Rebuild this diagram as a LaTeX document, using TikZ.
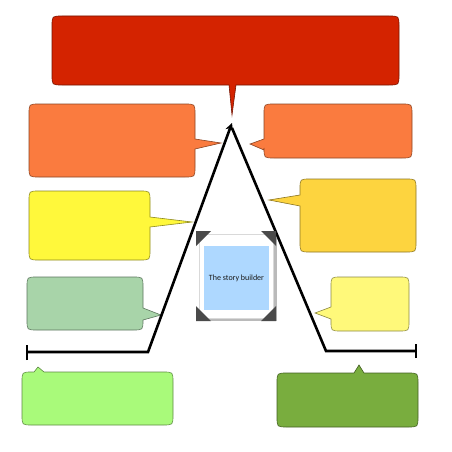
\documentclass[tikz,border=0pt]{standalone}
\usepackage{fontspec}
\newfontfamily\carl{Carlito}
\usetikzlibrary{arrows.meta}
\definecolor{cRed}{HTML}{D42300}
\definecolor{cOrange}{HTML}{FA7B3F}
\definecolor{cYellow}{HTML}{FFF83B}
\definecolor{cSage}{HTML}{A8D4A9}
\definecolor{cGold}{HTML}{FDD43F}
\definecolor{cPale}{HTML}{FFF97A}
\definecolor{cDkGreen}{HTML}{79AD3E}
\definecolor{cLtGreen}{HTML}{A9FA7A}
\definecolor{cBlue}{HTML}{AED8FF}
\definecolor{cCorner}{HTML}{4A4A4A}
\tikzset{
  bubble/.style={fill=#1, draw=#1!55!black, line width=0.6pt, line join=miter},
  plotline/.style={line width=2.6pt, black},
  endbar/.style={line width=2.6pt, black},
  corner/.style={fill=cCorner, draw=none},
}
\def\rr{10}
% #1 colour, #2 x1, #3 y1, #4 x2, #5 y2, #6/#7 tail base, #8/#9 tail tip
\newcommand\bubR[9]{\draw[bubble=#1] ({#2+\rr},#3) -- ({#4-\rr},#3) .. controls (#4,#3) .. (#4,{#3+\rr}) -- (#4,#6) -- (#8,#9) -- (#4,#7) -- (#4,{#5-\rr}) .. controls (#4,#5) .. ({#4-\rr},#5) -- ({#2+\rr},#5) .. controls (#2,#5) .. (#2,{#5-\rr}) -- (#2,{#3+\rr}) .. controls (#2,#3) .. ({#2+\rr},#3) -- cycle;}
\newcommand\bubL[9]{\draw[bubble=#1] ({#2+\rr},#3) -- ({#4-\rr},#3) .. controls (#4,#3) .. (#4,{#3+\rr}) -- (#4,{#5-\rr}) .. controls (#4,#5) .. ({#4-\rr},#5) -- ({#2+\rr},#5) .. controls (#2,#5) .. (#2,{#5-\rr}) -- (#2,#7) -- (#8,#9) -- (#2,#6) -- (#2,{#3+\rr}) .. controls (#2,#3) .. ({#2+\rr},#3) -- cycle;}
\newcommand\bubD[9]{\draw[bubble=#1] ({#2+\rr},#3) -- ({#4-\rr},#3) .. controls (#4,#3) .. (#4,{#3+\rr}) -- (#4,{#5-\rr}) .. controls (#4,#5) .. ({#4-\rr},#5) -- (#7,#5) -- (#8,#9) -- (#6,#5) -- ({#2+\rr},#5) .. controls (#2,#5) .. (#2,{#5-\rr}) -- (#2,{#3+\rr}) .. controls (#2,#3) .. ({#2+\rr},#3) -- cycle;}
\newcommand\bubU[9]{\draw[bubble=#1] ({#2+\rr},#3) -- (#6,#3) -- (#8,#9) -- (#7,#3) -- ({#4-\rr},#3) .. controls (#4,#3) .. (#4,{#3+\rr}) -- (#4,{#5-\rr}) .. controls (#4,#5) .. ({#4-\rr},#5) -- ({#2+\rr},#5) .. controls (#2,#5) .. (#2,{#5-\rr}) -- (#2,{#3+\rr}) .. controls (#2,#3) .. ({#2+\rr},#3) -- cycle;}
\begin{document}
\begin{tikzpicture}[x=1pt,y=-1pt]
\useasboundingbox (0,0) rectangle (452,452);
\bubD{cRed}{52}{16}{399}{85}{229}{236}{232}{115}
\bubR{cOrange}{29}{104}{195}{177}{139}{149}{221}{143}
\bubR{cYellow}{29}{191}{150}{260}{217}{227}{192}{222}
\bubR{cSage}{27}{277}{143}{330}{308}{320}{161}{315}
\bubL{cOrange}{264}{104}{412}{158}{139}{150}{250}{144}
\bubL{cGold}{300}{179}{416}{252}{195}{206}{269}{200}
\bubL{cPale}{331}{277}{409}{331}{307}{319}{315}{313}
\bubU{cDkGreen}{277}{373}{418}{427}{354}{364}{359}{365}
\bubU{cLtGreen}{22}{372}{173}{425}{34}{44}{38}{367}

% plot line
\coordinate (lb) at (27,352);
\coordinate (lk) at (148,352);
\coordinate (apex) at (232,123);
\coordinate (rs) at (232,128);
\coordinate (rk) at (326,351);
\coordinate (rb) at (416,351);
\draw[plotline, line join=miter, -{Stealth[length=8pt,width=8pt]}] (lb) -- (lk) -- (apex);
\draw[plotline, line join=miter] (rs) -- (rk) -- (rb);
\draw[endbar] ([yshift=-8]lb) -- ([yshift=7]lb);
\draw[endbar] ([yshift=-7]rb) -- ([yshift=7]rb);

% photo
\fill[black!45, opacity=0.6] (202,237) rectangle (277,321);
\draw[fill=white, draw=black!15, line width=0.4pt] (199,234) rectangle (273,318);
\fill[cBlue] (204,246) rectangle (269,310);
\node[font=\carl\fontsize{8}{9.5}\selectfont, text=black!90] (title) at (236.5,278) {The story builder};
\fill[corner] (196,231) -- (211,231) -- (196,246) -- cycle;
\fill[corner] (276,231) -- (261,231) -- (276,246) -- cycle;
\fill[corner] (196,321) -- (211,321) -- (196,306) -- cycle;
\fill[corner] (276,321) -- (261,321) -- (276,306) -- cycle;
\end{tikzpicture}
\end{document}
